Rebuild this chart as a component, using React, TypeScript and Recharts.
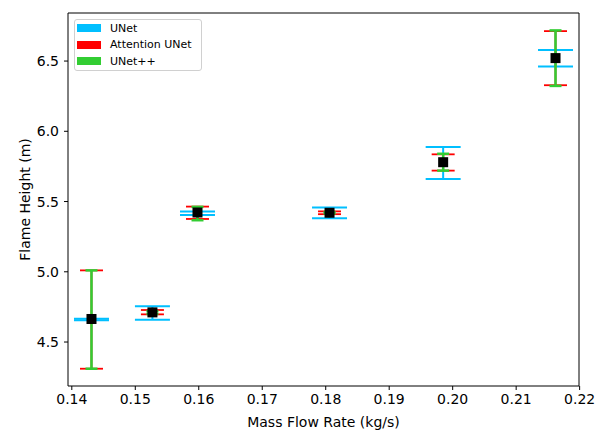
import React from "react";
import {
  ScatterChart,
  Scatter,
  XAxis,
  YAxis,
  ErrorBar,
  Legend,
  ReferenceLine,
} from "recharts";

const massFlow = [0.1431, 0.1527, 0.1598, 0.1806, 0.1985, 0.2162];
const meanHeight = [4.664, 4.711, 5.422, 5.42, 5.78, 6.521];

const unetLow = [4.655, 4.659, 5.405, 5.381, 5.66, 6.462];
const unetHigh = [4.665, 4.754, 5.429, 5.457, 5.888, 6.578];
const attnLow = [4.31, 4.697, 5.376, 5.41, 5.72, 6.328];
const attnHigh = [5.01, 4.728, 5.464, 5.43, 5.836, 6.713];
const unetppLow = [4.31, 4.7, 5.367, 5.415, 5.72, 6.323];
const unetppHigh = [5.01, 4.72, 5.462, 5.425, 5.84, 6.718];

const xTicks = [0.14, 0.15, 0.16, 0.17, 0.18, 0.19, 0.2, 0.21, 0.22];
const yTicks = [4.5, 5.0, 5.5, 6.0, 6.5];
const xDomain = [0.1394, 0.2199];
const yDomain = [4.187, 6.842];

const modelNames = ["UNet", "Attention UNet", "UNet++"];
const modelColors = ["#00bfff", "#ff0000", "#32cd32"];

const rows = massFlow.map((x, i) => ({
  x,
  y: meanHeight[i],
  unet: [meanHeight[i] - unetLow[i], unetHigh[i] - meanHeight[i]],
  attn: [meanHeight[i] - attnLow[i], attnHigh[i] - meanHeight[i]],
  unetpp: [meanHeight[i] - unetppLow[i], unetppHigh[i] - meanHeight[i]],
}));

const FONT = "DejaVu Sans, sans-serif";
const tickStyle = { fontSize: 14, fill: "#000", fontFamily: FONT };

const NoPoint = () => <g />;

const SquareMarker = (props: any) => (
  <rect x={props.cx - 5} y={props.cy - 5} width={10} height={10} fill="#000" />
);

const LegendBox = () => (
  <div
    style={{
      width: 128,
      height: 52,
      boxSizing: "border-box",
      border: "1px solid #d0d0d0",
      borderRadius: 3,
      background: "rgba(255,255,255,0.8)",
      paddingLeft: 2,
      fontFamily: FONT,
      fontSize: 11,
      color: "#000",
    }}
  >
    {modelNames.map((name, i) => (
      <div key={name} style={{ height: 16.5, display: "flex", alignItems: "center" }}>
        <span style={{ width: 24, height: 8, background: modelColors[i], marginRight: 9 }} />
        <span>{name}</span>
      </div>
    ))}
  </div>
);

export default function App() {
  return (
    <div style={{ position: "absolute", left: 0, top: 0, background: "#fff" }}>
      <ScatterChart
        width={608}
        height={441}
        margin={{ top: 13, right: 29, bottom: 0, left: 0 }}
      >
        <XAxis
          type="number"
          dataKey="x"
          domain={xDomain}
          allowDataOverflow
          ticks={xTicks}
          tickFormatter={(v: number) => v.toFixed(2)}
          tick={tickStyle}
          tickSize={4}
          tickMargin={4}
          height={55}
          stroke="#000"
          label={{
            content: ({ viewBox }: any) => (
              <text
                x={viewBox.x + viewBox.width / 2}
                y={viewBox.y + 36}
                textAnchor="middle"
                dominantBaseline="central"
                fontSize={14}
                fontFamily={FONT}
                fill="#000"
              >
                Mass Flow Rate (kg/s)
              </text>
            ),
          }}
        />
        <YAxis
          type="number"
          dataKey="y"
          domain={yDomain}
          allowDataOverflow
          ticks={yTicks}
          tickFormatter={(v: number) => v.toFixed(1)}
          tick={tickStyle}
          tickSize={4}
          tickMargin={5}
          width={68}
          stroke="#000"
          label={{
            content: ({ viewBox }: any) => {
              const cx = viewBox.x + 25;
              const cy = viewBox.y + viewBox.height / 2;
              return (
                <text
                  x={cx}
                  y={cy}
                  transform={`rotate(-90 ${cx} ${cy})`}
                  textAnchor="middle"
                  dominantBaseline="central"
                  fontSize={14}
                  fontFamily={FONT}
                  fill="#000"
                >
                  Flame Height (m)
                </text>
              );
            },
          }}
        />
        {/* top and right spines */}
        <ReferenceLine y={yDomain[1]} stroke="#000" strokeWidth={1} ifOverflow="visible" />
        <ReferenceLine x={xDomain[1]} stroke="#000" strokeWidth={1} ifOverflow="visible" />
        <Legend
          layout="horizontal"
          verticalAlign="middle"
          align="center"
          content={() => <LegendBox />}
          wrapperStyle={{ left: 74, top: 19, width: 128, height: 52 }}
        />
        <Scatter name="UNet" data={rows} dataKey="y" shape={NoPoint} isAnimationActive={false} legendType="none">
          <ErrorBar dataKey="unet" direction="y" width={17.5} stroke={modelColors[0]} strokeWidth={2} isAnimationActive={false} />
        </Scatter>
        <Scatter name="Attention UNet" data={rows} dataKey="y" shape={NoPoint} isAnimationActive={false} legendType="none">
          <ErrorBar dataKey="attn" direction="y" width={11.5} stroke={modelColors[1]} strokeWidth={1.8} isAnimationActive={false} />
        </Scatter>
        <Scatter name="UNet++" data={rows} dataKey="y" shape={NoPoint} isAnimationActive={false} legendType="none">
          <ErrorBar dataKey="unetpp" direction="y" width={6} stroke={modelColors[2]} strokeWidth={2.5} isAnimationActive={false} />
        </Scatter>
        <Scatter name="Mean" data={rows} dataKey="y" shape={SquareMarker} isAnimationActive={false} legendType="none" />
      </ScatterChart>
    </div>
  );
}
